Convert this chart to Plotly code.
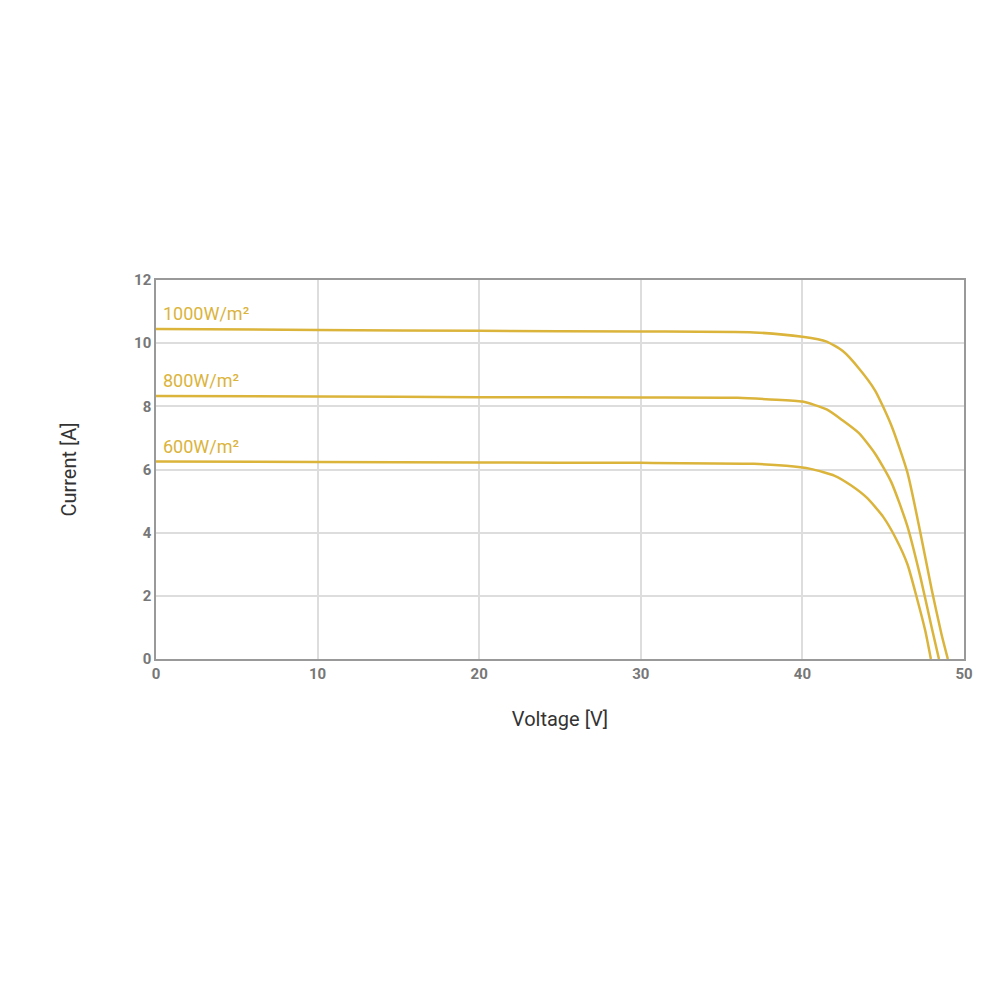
import plotly.graph_objects as go

v1000 = [0, 10, 20, 30, 37, 40, 41.5, 42.5, 43.5, 44.5, 45.5, 46.5, 47.3, 48.0, 48.6, 49.0]
i1000 = [10.45, 10.42, 10.39, 10.37, 10.34, 10.2, 10.05, 9.75, 9.2, 8.5, 7.4, 5.9, 4.0, 2.2, 0.8, 0]
v800 = [0, 10, 20, 30, 36, 38, 40, 41.5, 42.5, 43.5, 44.5, 45.5, 46.5, 47.3, 48.0, 48.45]
i800 = [8.33, 8.31, 8.29, 8.28, 8.27, 8.22, 8.15, 7.9, 7.55, 7.15, 6.5, 5.6, 4.2, 2.6, 1.0, 0]
v600 = [0, 10, 20, 30, 37, 39, 40.5, 42, 43, 44, 45, 45.8, 46.5, 47.1, 47.6, 47.95]
i600 = [6.25, 6.24, 6.22, 6.21, 6.18, 6.12, 6.02, 5.8, 5.5, 5.1, 4.5, 3.8, 3.0, 1.9, 0.9, 0]
labels = ["1000W/m²", "800W/m²", "600W/m²"]

col = "#dbb43c"
fig = go.Figure()
for v, i, lab in [(v1000, i1000, labels[0]), (v800, i800, labels[1]), (v600, i600, labels[2])]:
    fig.add_trace(go.Scatter(x=v, y=i, mode="lines", line=dict(color=col, width=2.5, shape="spline", smoothing=0.6), showlegend=False))
    fig.add_annotation(x=0.3, y=i[0], text=lab, showarrow=False, xanchor="left", yanchor="bottom", yshift=3,
                       font=dict(color=col, size=18, family="Roboto"))

ax = dict(showgrid=True, gridcolor="#dddddd", gridwidth=1.5, showline=True, linecolor="#999999", linewidth=1.5,
          mirror=True, zeroline=False, ticks="", tickfont=dict(color="#777777", size=15, family="Roboto", weight="bold"))
fig.update_xaxes(range=[0, 50], dtick=10, title=dict(text="Voltage [V]", font=dict(size=20, color="#333", family="Roboto"), standoff=30), **ax)
fig.update_yaxes(range=[0, 12], dtick=2, title=dict(text="Current [A]", font=dict(size=20, color="#333", family="Roboto"), standoff=52), **ax)
fig.update_layout(width=1000, height=1000, plot_bgcolor="white", paper_bgcolor="white",
                  margin=dict(l=148, r=44, t=272, b=349))
fig.write_html("out.html")
